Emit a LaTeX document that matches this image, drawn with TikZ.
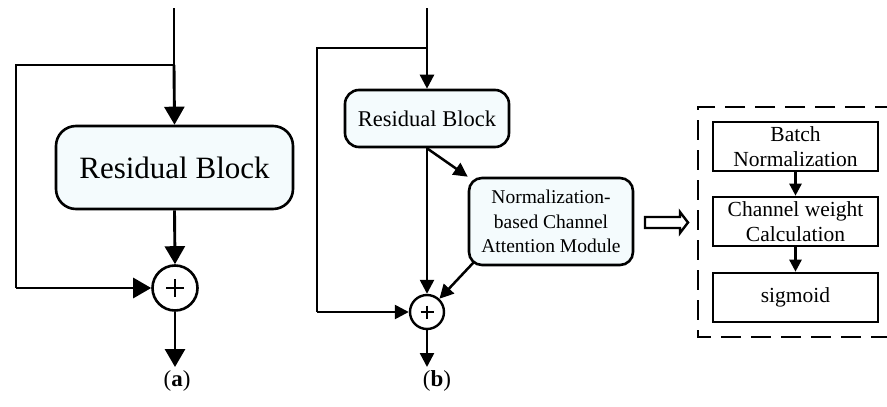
\documentclass[tikz,border=0pt]{standalone}
\usepackage{fontspec}
\setmainfont{Liberation Serif}
\usetikzlibrary{arrows.meta,calc}

\definecolor{boxfill}{RGB}{244,251,253}

\tikzset{
  x=1pt, y=-1pt,
  rbox/.style={draw, line width=2.6pt, fill=boxfill, rounded corners=#1,
               inner sep=0pt, align=center},
  sqbox/.style={draw, line width=2.6pt, fill=white, inner sep=0pt,
                minimum width=165pt, minimum height=49pt, align=center,
                font=\fontsize{21.5}{25}\selectfont},
  sumnode/.style={draw, circle, fill=white, inner sep=0pt},
  biga/.style={line width=2.9pt, -{Triangle[width=20pt,length=18pt]}},
  smalla/.style={line width=2.5pt, -{Triangle[width=14pt,length=14pt]}},
  tinya/.style={line width=2.5pt, -{Triangle[width=12pt,length=12pt]}},
  wire/.style={line width=2.9pt},
  wireb/.style={line width=2.5pt},
  caption/.style={font=\fontsize{23}{27}\selectfont}
}

\begin{document}
\begin{tikzpicture}
\useasboundingbox (0,0) rectangle (887,407);
\clip (0,0) rectangle (887,407);

% ---------------- panel (a) ----------------
\coordinate (ta) at (174,8);
\coordinate (ba) at (174,65);
\coordinate (la1) at (16,65);
\coordinate (la2) at (16,288);
\coordinate (oa) at (175,367);
\node[rbox=20pt, minimum width=237pt, minimum height=83pt,
      font=\fontsize{31}{35}\selectfont] (rba) at (174.5,167.5) {Residual Block};
\node[sumnode, line width=2.6pt, minimum size=45pt] (suma) at (175,288) {};
\draw[line width=2.4pt] ($(suma)+(-9,0)$) -- ($(suma)+(9,0)$)
                        ($(suma)+(0,-9)$) -- ($(suma)+(0,9)$);

\draw[wire] (ta) -- (ba);
\draw[biga] (ba) -- (rba.north);
\draw[biga] (rba.south) -- (suma.north);
\draw[wire] (ba) -- (la1) -- (la2);
\draw[biga] (la2) -- (suma.west);
\draw[biga] (suma.south) -- (oa);
\node[caption] (capa) at (177,381) {(\textbf{a})};

% ---------------- panel (b) ----------------
\coordinate (tb) at (427,8);
\coordinate (bb) at (427,48);
\coordinate (lb1) at (317,48);
\coordinate (lb2) at (317,312);
\coordinate (ob) at (427,367);
\node[rbox=14pt, minimum width=164pt, minimum height=57pt,
      font=\fontsize{22.5}{26}\selectfont] (rbb) at (427,118.5) {Residual Block};
\node[rbox=13pt, minimum width=164pt, minimum height=87pt,
      font=\fontsize{19.5}{24.5}\selectfont] (ncam) at (551,221.5)
      {Normalization-\\based Channel\\Attention Module};
\node[sumnode, line width=2.4pt, minimum size=34pt] (sumb) at (427,312) {};
\draw[line width=2.2pt] ($(sumb)+(-6.5,0)$) -- ($(sumb)+(6.5,0)$)
                        ($(sumb)+(0,-6.5)$) -- ($(sumb)+(0,6.5)$);
\coordinate (ncamout) at (474,262);

\draw[wireb] (tb) -- (bb);
\draw[smalla] (bb) -- (rbb.north);
\draw[smalla] (rbb.south) -- (sumb.north);
\draw[smalla] (rbb.south) -- (ncam.north west);
\draw[smalla] (ncamout) -- (sumb);
\draw[wireb] (bb) -- (lb1) -- (lb2);
\draw[smalla] (lb2) -- (sumb.west);
\draw[smalla] (sumb.south) -- (ob);
\node[caption] (capb) at (437,381) {(\textbf{b})};

% ---------------- expansion of the attention module ----------------
\draw[line width=2.4pt, fill=white]
  (645,217) -- (680,217) -- (680,212) -- (688,222.5) -- (680,233)
  -- (680,228) -- (645,228) -- cycle;

\draw[line width=2.8pt, dash pattern=on 20pt off 10pt]
  (895,107) -- (698,107) -- (698,337) -- (895,337);

\node[sqbox] (bn) at (795.5,146.5) {Batch\\Normalization};
\node[sqbox] (cw) at (795.5,221.5) {Channel weight\\Calculation};
\node[sqbox] (sg) at (795.5,297.5) {sigmoid};
\draw[tinya] (bn.south) -- (cw.north);
\draw[tinya] (cw.south) -- (sg.north);
\end{tikzpicture}
\end{document}
